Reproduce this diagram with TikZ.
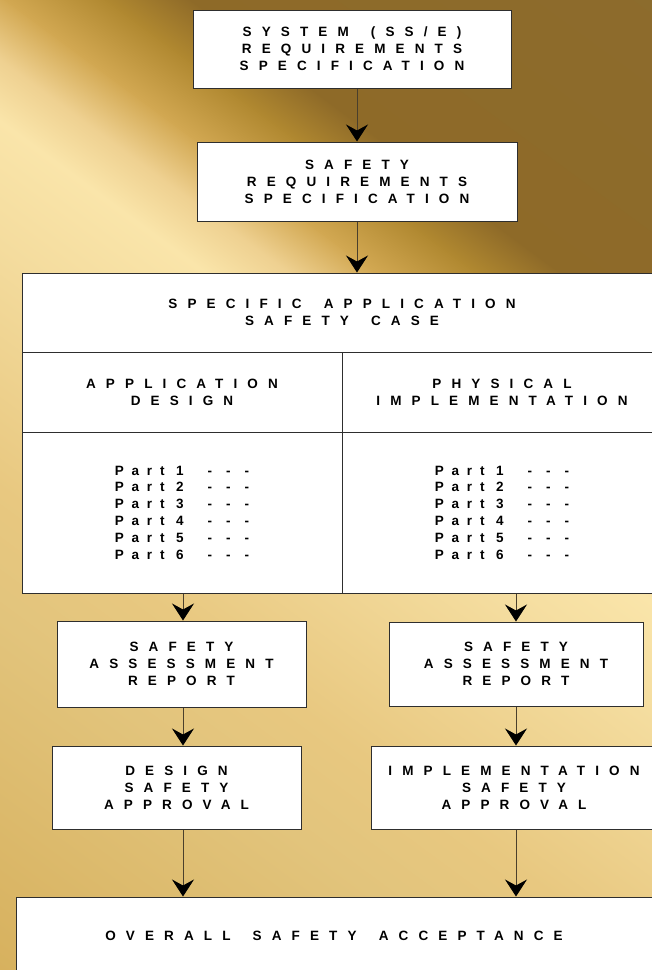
\documentclass[tikz,border=0pt]{standalone}
\usepackage{fontspec}
\usetikzlibrary{arrows.meta}

\newfontfamily\lblfamily[LetterSpace=75,WordSpace=1.6]{Liberation Sans Bold}
\newfontfamily\partfamily[LetterSpace=58]{Liberation Sans Bold}
\newcommand{\boxfont}{\lblfamily\fontsize{13.5}{17}\selectfont}
\newcommand{\partfont}{\partfamily\fontsize{13.5}{16.8}\selectfont}
\newcommand{\dashes}{\kern24pt-\kern14pt-\kern14pt-}

% colours
\definecolor{boxline}{HTML}{2E2E2E}
\definecolor{flowline}{HTML}{4A3F2C}
\definecolor{bgA}{HTML}{D4AC56}
\definecolor{bgB}{HTML}{E2C47C}
\definecolor{bgC}{HTML}{E8C880}
\definecolor{bgD}{HTML}{F4DC9E}
\definecolor{bgE}{HTML}{FAE5AA}
\definecolor{bgF}{HTML}{EED090}
\definecolor{bgG}{HTML}{D2A852}
\definecolor{bgH}{HTML}{B08830}
\definecolor{bgI}{HTML}{8E6A28}
\definecolor{bgJ}{HTML}{8C6C2E}

\tikzset{
  box/.style={draw=boxline, fill=white, line width=1pt, inner sep=0pt, font=\boxfont, align=center},
  parts/.style={box, font=\partfont, align=left},
  flow/.style={draw=flowline, line width=0.9pt, -{Stealth[length=17pt,width=22pt,inset=6pt,fill=black,color=black]}},
}

\begin{document}
\begin{tikzpicture}[x=1pt, y=-1pt]
    % Page and background
    \useasboundingbox (0,0) rectangle (652,970);
    \clip (0,0) rectangle (652,970);
    \begin{scope}[transform canvas={shift={(0,120)}, rotate=53.6}]
        \foreach \sa/\sb/\ca/\cb in {-760/-400/bgA/bgB, -400/-296/bgB/bgC, -296/-100/bgC/bgD,
            -100/0/bgD/bgE, 0/50/bgE/bgF, 50/100/bgF/bgG, 100/160/bgG/bgH,
            160/210/bgH/bgI, 210/560/bgI/bgJ}
            \shade[left color=\ca, right color=\cb] (\sa-0.5,-1100) rectangle (\sb+0.5,1100);
    \end{scope}

    % Arrow columns
    \coordinate (colM) at (357,0);
    \coordinate (colL) at (183,0);
    \coordinate (colR) at (516,0);

    % Requirement boxes
    \node[box, minimum width=318, minimum height=78] (sysreq) at (352,49)
        {SYSTEM (SS/E)\\REQUIREMENTS\\SPECIFICATION};
    \node[box, minimum width=320, minimum height=79] (safreq) at (357,181.5)
        {SAFETY\\REQUIREMENTS\\SPECIFICATION};

    % Safety case table
    \node[box, minimum width=640, minimum height=79] (case) at (342,312.5)
        {SPECIFIC APPLICATION\\SAFETY CASE};
    \node[box, minimum width=320, minimum height=80] (appdes) at (182,392)
        {APPLICATION\\DESIGN};
    \node[box, minimum width=320, minimum height=80] (physimp) at (502,392)
        {PHYSICAL\\IMPLEMENTATION};
    \node[parts, minimum width=320, minimum height=161] (partsL) at (182,512.5)
        {Part 1\dashes\\Part 2\dashes\\Part 3\dashes\\Part 4\dashes\\Part 5\dashes\\Part 6\dashes};
    \node[parts, minimum width=320, minimum height=161] (partsR) at (502,512.5)
        {Part 1\dashes\\Part 2\dashes\\Part 3\dashes\\Part 4\dashes\\Part 5\dashes\\Part 6\dashes};

    % Assessment and approval boxes
    \node[box, minimum width=249, minimum height=86] (sarL) at (181.5,664)
        {SAFETY\\ASSESSMENT\\REPORT};
    \node[box, minimum width=254, minimum height=84] (sarR) at (516,664)
        {SAFETY\\ASSESSMENT\\REPORT};
    \node[box, minimum width=249, minimum height=83] (dsa) at (176.5,787.5)
        {DESIGN\\SAFETY\\APPROVAL};
    \node[box, minimum width=286, minimum height=83] (isa) at (514,787.5)
        {IMPLEMENTATION\\SAFETY\\APPROVAL};

    % Final box
    \node[box, minimum width=636, minimum height=78] (overall) at (334,936)
        {OVERALL SAFETY ACCEPTANCE};

    % Flow arrows
    \draw[flow] (sysreq.south -| colM) -- (safreq.north -| colM);
    \draw[flow] (safreq.south -| colM) -- (case.north -| colM);
    \draw[flow] (partsL.south -| colL) -- (sarL.north -| colL);
    \draw[flow] (partsR.south -| colR) -- (sarR.north -| colR);
    \draw[flow] (sarL.south -| colL) -- (dsa.north -| colL);
    \draw[flow] (sarR.south -| colR) -- (isa.north -| colR);
    \draw[flow] (dsa.south -| colL) -- (overall.north -| colL);
    \draw[flow] (isa.south -| colR) -- (overall.north -| colR);
\end{tikzpicture}
\end{document}
